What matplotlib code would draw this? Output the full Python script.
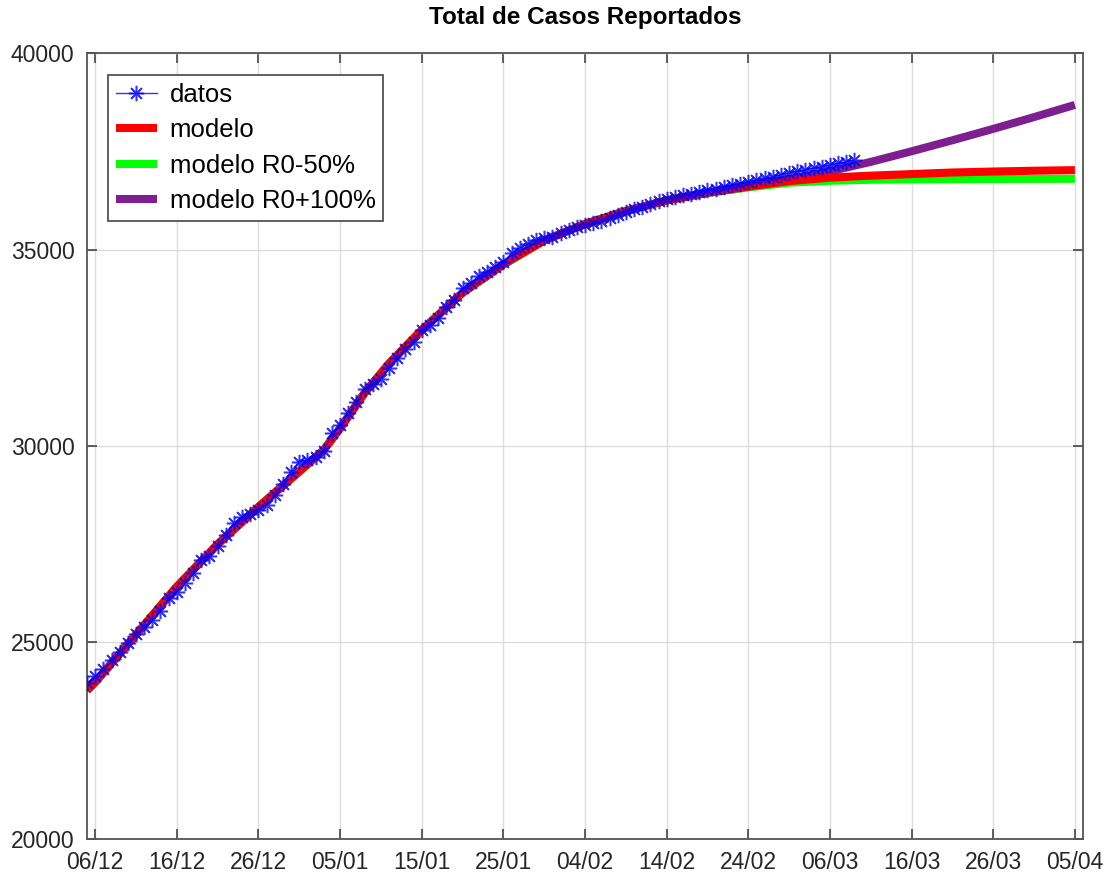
import matplotlib
matplotlib.use("Agg")
import matplotlib.pyplot as plt
import matplotlib.dates as mdates
import numpy as np

plt.rcParams['font.family'] = ['Liberation Sans', 'DejaVu Sans']

# Fechas base
inicio = np.datetime64('2020-12-05')

# Datos reportados (un valor por dia desde el 05/12)
datos = [23960, 24150, 24320, 24550, 24770, 24980, 25220, 25400, 25570, 25790,
         26120, 26290, 26520, 26780, 27100, 27200, 27460, 27740, 28030, 28190,
         28270, 28370, 28500, 28750, 29040, 29350, 29600, 29640, 29730, 29880,
         30330, 30530, 30840, 31120, 31440, 31580, 31700, 31980, 32230, 32460,
         32650, 32950, 33080, 33250, 33540, 33720, 34010, 34150, 34330, 34440,
         34560, 34690, 34900, 35030, 35140, 35240, 35290, 35330, 35410, 35500,
         35580, 35620, 35670, 35720, 35800, 35880, 35960, 36020, 36080, 36150,
         36230, 36290, 36330, 36380, 36420, 36470, 36510, 36550, 36590, 36630,
         36680, 36720, 36770, 36810, 36850, 36900, 36950, 36990, 37030, 37070,
         37110, 37150, 37190, 37230, 37270]
dias_datos = np.arange(len(datos))

# Modelos (dias desde el 05/12)
dias_modelo = [0, 1, 6, 11, 16, 21, 26, 29, 31, 34, 37, 41, 46, 51, 56, 61,
               66, 71, 76, 81, 86, 91, 96, 101, 106, 111, 116, 121]
modelo = [23780, 23990, 25200, 26420, 27500, 28450, 29350, 29900, 30450, 31350,
          32100, 32950, 33900, 34620, 35230, 35650, 35980, 36250, 36440, 36600,
          36740, 36830, 36880, 36920, 36960, 36985, 37005, 37020]
modelo_menos50 = [23780, 23990, 25200, 26420, 27500, 28450, 29350, 29900, 30450, 31350,
                  32100, 32950, 33900, 34620, 35230, 35650, 35980, 36250, 36440, 36580,
                  36700, 36750, 36775, 36785, 36790, 36795, 36798, 36800]
modelo_mas100 = [23780, 23990, 25200, 26420, 27500, 28450, 29350, 29900, 30450, 31350,
                 32100, 32950, 33900, 34620, 35230, 35650, 35980, 36250, 36450, 36640,
                 36790, 36990, 37230, 37500, 37780, 38070, 38370, 38680]

fechas_datos = inicio + dias_datos.astype('timedelta64[D]')
fechas_modelo = inicio + np.array(dias_modelo).astype('timedelta64[D]')

fig = plt.figure(figsize=(11.1, 8.81), dpi=100)
ax = fig.add_axes([0.0784, 0.0477, 0.8973, 0.8921])

l_mas, = ax.plot(fechas_modelo, modelo_mas100, color=(0.49, 0.12, 0.56), lw=5.8,
                 solid_capstyle='butt', zorder=2)
l_menos, = ax.plot(fechas_modelo, modelo_menos50, color=(0, 1, 0), lw=5.8,
                   solid_capstyle='butt', zorder=2)
l_mod, = ax.plot(fechas_modelo, modelo, color=(1, 0, 0), lw=5.8,
                 solid_capstyle='butt', zorder=3)
# asterisco de 8 puntas como en Octave
l_dat, = ax.plot(fechas_datos, datos, color=(0, 0, 1), lw=1, marker=(8, 2, 0),
                 markersize=11, markeredgewidth=1.1, alpha=0.8, zorder=4)

ax.set_xlim(inicio, inicio + np.timedelta64(122, 'D'))
ax.set_ylim(20000, 40000)
ax.set_yticks(np.arange(20000, 40001, 5000))
ax.set_xticks(inicio + np.arange(1, 122, 10).astype('timedelta64[D]'))
ax.xaxis.set_major_formatter(mdates.DateFormatter('%d/%m'))

ax.grid(True, color='#dcdcdc', lw=1)
ax.set_axisbelow(True)
ax.tick_params(direction='in', length=7, width=1.2, colors='#444444',
               labelcolor='#262626', labelsize=16.5, top=True, right=True, pad=9)
for s in ax.spines.values():
    s.set_color('#555555')
    s.set_linewidth(1.3)

ax.set_title('Total de Casos Reportados', fontsize=17.5, fontweight='bold', pad=21)

leg = ax.legend([l_dat, l_mod, l_menos, l_mas],
                ['datos', 'modelo', 'modelo R0-50%', 'modelo R0+100%'],
                loc='upper left', bbox_to_anchor=(0.021, 0.972), fontsize=18.5,
                fancybox=False, edgecolor='#444444', framealpha=1,
                handlelength=1.6, labelspacing=0.45, borderpad=0.3,
                handletextpad=0.5, borderaxespad=0)
leg.get_frame().set_linewidth(1.2)

plt.savefig('out.png', dpi=100)
